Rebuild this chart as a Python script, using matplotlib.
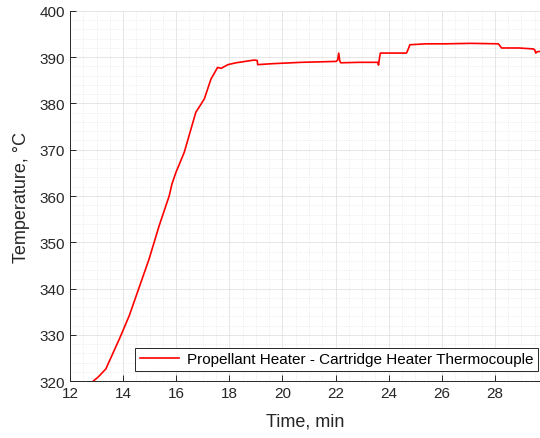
import matplotlib
matplotlib.use('Agg')
import numpy as np
import matplotlib.pyplot as plt
from matplotlib.ticker import MultipleLocator

matplotlib.rcParams['font.family'] = ['Liberation Sans', 'DejaVu Sans']

# time (min) and temperature (deg C)
time_min = [12.88, 13.05, 13.35, 13.86, 14.23, 14.67, 14.98, 15.36, 15.74, 15.84,
            15.99, 16.30, 16.74, 17.06, 17.31, 17.56, 17.69, 17.95, 18.25, 18.60,
            18.94, 19.05, 19.07, 19.60, 20.70, 21.40, 22.03, 22.08, 22.12, 22.16,
            22.20, 22.90, 23.59, 23.62, 23.66, 23.69, 24.20, 24.67, 24.72, 24.80,
            25.40, 26.12, 27.10, 28.13, 28.20, 28.25, 28.90, 29.45, 29.50, 29.54,
            29.60, 29.77]
temp_c = [320.0, 320.8, 322.6, 329.1, 334.1, 341.3, 346.4, 353.6, 360.1, 362.6,
          365.1, 369.4, 378.1, 381.0, 385.3, 387.8, 387.6, 388.4, 388.8, 389.1,
          389.4, 389.3, 388.4, 388.6, 388.9, 389.0, 389.1, 389.4, 390.9, 389.2,
          388.8, 388.9, 388.9, 388.3, 390.0, 390.9, 390.9, 390.9, 391.5, 392.7,
          392.9, 392.9, 393.0, 392.9, 392.4, 392.0, 392.0, 391.8, 391.6, 390.9,
          391.2, 391.3]

series_label = 'Propellant Heater - Cartridge Heater Thermocouple'

fig = plt.figure(figsize=(5.4, 4.39), dpi=100)
ax = fig.add_axes([0.1296, 0.1298, 0.8704, 0.8429])

ax.plot(time_min, temp_c, color='#ff0000', linewidth=1.2, label=series_label)

ax.set_xlim(12, 29.7)
ax.set_ylim(320, 400)
ax.xaxis.set_major_locator(MultipleLocator(2))
ax.xaxis.set_minor_locator(MultipleLocator(0.5))
ax.yaxis.set_major_locator(MultipleLocator(10))
ax.yaxis.set_minor_locator(MultipleLocator(2))

ax.grid(which='major', color='#e2e2e2', linestyle='-', linewidth=0.6)
ax.grid(which='minor', color='#e6e6e6', linestyle=':', linewidth=0.6)
ax.set_axisbelow(True)

for s in ['top', 'right']:
    ax.spines[s].set_visible(False)
for s in ['left', 'bottom']:
    ax.spines[s].set_color('#262626')
    ax.spines[s].set_linewidth(0.7)
ax.tick_params(which='major', direction='in', length=4, width=0.7,
               colors='#262626', labelsize=11)
ax.tick_params(which='minor', length=0)

ax.set_xlabel('Time, min', fontsize=13, color='#262626', labelpad=9)
ax.set_ylabel('Temperature, °C', fontsize=13, color='#262626', labelpad=7)

leg = ax.legend(loc='lower right', bbox_to_anchor=(0.996, 0.027),
                fontsize=11, fancybox=False, framealpha=1,
                edgecolor='#262626', borderpad=0.3, handlelength=2.6,
                handletextpad=0.5, borderaxespad=0)
leg.get_frame().set_linewidth(0.7)

fig.savefig('out.png', dpi=100)
